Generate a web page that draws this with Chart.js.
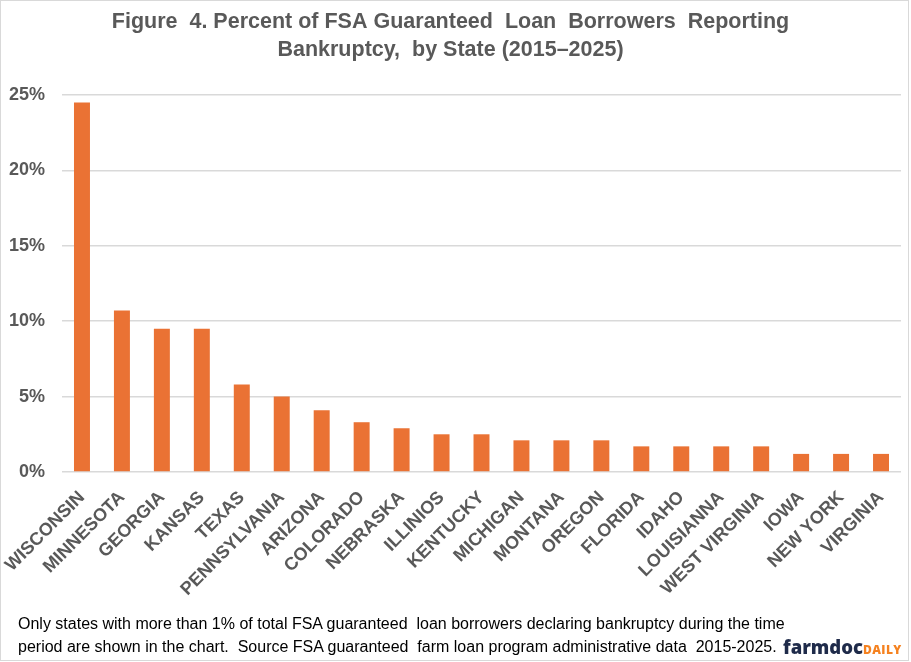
<!DOCTYPE html>
<html>
<head>
<meta charset="utf-8">
<script src="https://cdn.jsdelivr.net/npm/chart.js@4.4.1/dist/chart.umd.min.js"></script>
<style>
  html, body { margin:0; padding:0; background:#fff; }
  #wrap { position:relative; width:911px; height:662px; overflow:hidden; }
  #frame { position:absolute; left:0; top:0; width:909px; height:661px; box-sizing:border-box; border:1px solid #d9d9d9; pointer-events:none; }
  canvas { position:absolute; left:0; top:0; }
  #foot { position:absolute; left:18px; top:612px; font-family:"Liberation Sans",Arial,sans-serif; font-size:16px; line-height:23px; color:#000; white-space:pre; }
  #logo { position:absolute; left:783px; top:635px; white-space:nowrap; line-height:24px; }
  #logo .a { font-family:"Open Sans","DejaVu Sans",sans-serif; font-weight:800; font-size:18.5px; color:#1f2b4a; letter-spacing:0px; }
  #logo .b { font-family:"Open Sans","DejaVu Sans",sans-serif; font-weight:800; font-size:12px; color:#f58220; letter-spacing:0.4px; }
</style>
</head>
<body>
<div id="wrap">
  <canvas id="c" width="911" height="662"></canvas>
  <div id="foot">Only states with more than 1% of total FSA guaranteed  loan borrowers declaring bankruptcy during the time
period are shown in the chart.  Source FSA guaranteed  farm loan program administrative data  2015-2025.</div>
  <div id="logo"><span class="a">farmdoc</span><span class="b">DAILY</span></div>
  <div id="frame"></div>
</div>
<script>
const states = ["WISCONSIN","MINNESOTA","GEORGIA","KANSAS","TEXAS","PENNSYLVANIA","ARIZONA","COLORADO","NEBRASKA","ILLINIOS","KENTUCKY","MICHIGAN","MONTANA","OREGON","FLORIDA","IDAHO","LOUISIANNA","WEST VIRGINIA","IOWA","NEW YORK","VIRGINIA"];
const bankruptcyPct = [24.5,10.7,9.5,9.5,5.8,5.0,4.1,3.3,2.9,2.5,2.5,2.1,2.1,2.1,1.7,1.7,1.7,1.7,1.2,1.2,1.2];
const yTicks = [0,5,10,15,20,25];
const titleLines = ["Figure  4. Percent of FSA Guaranteed  Loan  Borrowers  Reporting","Bankruptcy,  by State (2015\u20132025)"];

Chart.defaults.animation = false;
new Chart(document.getElementById('c'), {
  type: 'bar',
  data: {
    labels: states,
    datasets: [{
      data: bankruptcyPct,
      backgroundColor: '#ea7234',
      borderWidth: 0,
      categoryPercentage: 1.0,
      barPercentage: 0.4
    }]
  },
  options: {
    responsive: false,
    devicePixelRatio: 1,
    layout: { padding: { left: 0, right: 10, top: 0, bottom: 0 } },
    plugins: {
      legend: { display: false },
      tooltip: { enabled: false },
      title: {
        display: true,
        text: titleLines,
        color: '#595959',
        font: { family: '"Liberation Sans",Arial,sans-serif', size: 21.5, weight: 'bold', lineHeight: 1.3 },
        padding: { top: 8, bottom: 31 }
      }
    },
    scales: {
      x: {
        grid: { display: false },
        border: { display: false },
        ticks: {
          autoSkip: false,
          minRotation: 45,
          maxRotation: 45,
          color: '#595959',
          padding: 7,
          font: { family: '"Liberation Sans",Arial,sans-serif', size: 18, weight: 'bold' }
        },
        afterFit(scale) { scale.height = 190; scale.paddingLeft = 0; scale.paddingRight = 0; }
      },
      y: {
        min: 0,
        max: 25,
        afterBuildTicks(scale) { scale.ticks = yTicks.map(v => ({ value: v })); },
        grid: { color: '#d9d9d9', lineWidth: 1.5, drawTicks: false },
        border: { display: false },
        ticks: {
          color: '#595959',
          padding: 17,
          font: { family: '"Liberation Sans",Arial,sans-serif', size: 18, weight: 'bold' },
          callback: v => v + '%'
        },
        afterFit(scale) { scale.width = 62; }
      }
    }
  }
});
</script>
</body>
</html>
